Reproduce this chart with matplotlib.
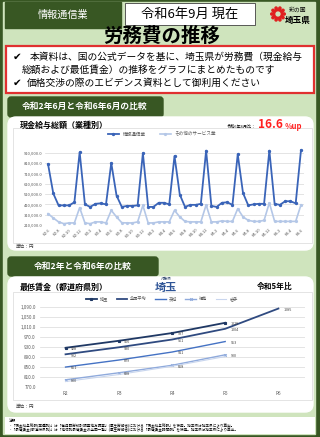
import math
import matplotlib
matplotlib.use("Agg")
import matplotlib.pyplot as plt
from matplotlib.patches import Rectangle, FancyBboxPatch, Circle

plt.rcParams['font.family'] = ['Noto Sans CJK JP', 'DejaVu Sans']

W, H = 320, 437

# 現金給与総額（業種別） R2.6 - R6.6 monthly
info_comm = [800000, 515000, 400000, 400000, 400000, 430000, 915000,
             410000, 385000, 415000, 420000, 410000, 810000, 495000, 385000, 395000, 395000, 400000, 905000,
             385000, 385000, 425000, 425000, 410000, 878000, 505000, 385000, 405000, 405000, 415000, 930000,
             395000, 385000, 425000, 430000, 405000, 895000, 520000, 400000, 410000, 415000, 415000, 930000,
             415000, 405000, 440000, 440000, 420000, 933000]
other_service = [320000, 278000, 240000, 223000, 230000, 230000, 378000,
                 230000, 223000, 240000, 240000, 230000, 352000, 288000, 232000, 230000, 230000, 240000, 400000,
                 230000, 230000, 240000, 240000, 240000, 352000, 288000, 245000, 240000, 240000, 240000, 405000,
                 240000, 240000, 250000, 245000, 245000, 368000, 288000, 255000, 245000, 245000, 255000, 425000,
                 245000, 245000, 245000, 245000, 245000, 405000]
month_ticks = ['R2.6', 'R2.8', 'R2.10', 'R2.12', 'R3.2', 'R3.4', 'R3.6', 'R3.8', 'R3.10', 'R3.12',
               'R4.2', 'R4.4', 'R4.6', 'R4.8', 'R4.10', 'R4.12', 'R5.2', 'R5.4', 'R5.6', 'R5.8',
               'R5.10', 'R5.12', 'R6.2', 'R6.4', 'R6.6']
wage_ticks = [210000, 310000, 410000, 510000, 610000, 710000, 810000, 910000]

# 最低賃金（都道府県別）
years = ['R2', 'R3', 'R4', 'R5', 'R6']
saitama = [928, 956, 987, 1028]
national = [902, 930, 961, 1004, 1085]
ibaraki = [851, 879, 911, 953]
fukushima = [800, 828, 858, 900]
iwate = [793, 821, 854, 893]
min_ticks = [770, 810, 850, 890, 930, 970, 1010, 1050, 1090]

DARK_GREEN = '#385723'
LIGHT_GREEN = '#cfe4bd'


def px_rect(x0, y0, x1, y1):
    return [x0 / W, 1 - y1 / H, (x1 - x0) / W, (y1 - y0) / H]


fig = plt.figure(figsize=(W / 100, H / 100), dpi=100)
fig.patch.set_facecolor(DARK_GREEN)
bg = fig.add_axes([0, 0, 1, 1])
bg.set_xlim(0, W)
bg.set_ylim(H, 0)
bg.axis('off')

bg.add_patch(Rectangle((3, 2), W - 8, H - 5, color=LIGHT_GREEN, zorder=0))

# header
bg.add_patch(Rectangle((5, 2), 116, 26, color=DARK_GREEN))
bg.text(63, 15, '情報通信業', color='white', fontsize=7.3, ha='center', va='center')
bg.add_patch(Rectangle((125, 3), 130, 22, facecolor='white', edgecolor='#404040', lw=0.6))
bg.text(190, 14, '令和6年9月 現在', fontsize=9.5, ha='center', va='center')

# logo
bg.add_patch(Circle((278, 14), 4.2, facecolor='none', edgecolor='#e02020', lw=2.2))
for k in range(10):
    a = 2 * math.pi * k / 10
    bg.add_patch(Circle((278 + 6.2 * math.cos(a), 14 + 6.2 * math.sin(a)), 1.1, color='#e02020'))
bg.text(298, 10, '彩の国', fontsize=4.2, ha='center', va='center')
bg.text(298, 20, '埼玉県', fontsize=6.2, weight='bold', ha='center', va='center')

bg.text(162, 36, '労務費の推移', fontsize=14, weight='bold', ha='center', va='center')

# message box
bg.add_patch(Rectangle((6, 46), 308, 47, facecolor='white', edgecolor='#e03030', lw=1.6))
bg.text(13, 57, '✔', fontsize=7.5, va='center', family=['DejaVu Sans'])
bg.text(30, 57, '本資料は、国の公式データを基に、埼玉県が労務費（現金給与', fontsize=7.0, va='center')
bg.text(22, 70, '総額および最低賃金）の推移をグラフにまとめたものです', fontsize=7.0, va='center')
bg.text(13, 83, '✔', fontsize=7.5, va='center', family=['DejaVu Sans'])
bg.text(27, 83, '価格交渉の際のエビデンス資料として御利用ください', fontsize=7.0, va='center')

# section 1
bg.add_patch(FancyBboxPatch((8, 97), 155, 20, boxstyle='round,pad=0,rounding_size=3', color=DARK_GREEN))
bg.add_patch(FancyBboxPatch((8, 117), 305, 133, boxstyle='round,pad=0,rounding_size=8', color='white'))
bg.text(85, 106, '令和2年6月と令和6年6月の比較', color='white', fontsize=6.3, weight='bold', ha='center', va='center')
bg.text(20, 125, '現金給与総額（業種別）', fontsize=5.8, weight='bold', va='center')
bg.text(256, 127, '令和6年6月比：', fontsize=3.0, ha='right', va='center')
bg.text(258, 125, '16.6', fontsize=8.5, weight='bold', color='#ff2020', va='center')
bg.text(285, 126.5, '％up', fontsize=5.5, weight='bold', color='#ff2020', va='center')
bg.add_patch(Rectangle((13, 128), 299, 115, facecolor='none', edgecolor='#d9d9d9', lw=0.5))
bg.text(16, 246, '単位：円', fontsize=3.3, color='#404040', va='center')

# section 2
bg.add_patch(FancyBboxPatch((8, 257), 150, 19, boxstyle='round,pad=0,rounding_size=3', color=DARK_GREEN))
bg.add_patch(FancyBboxPatch((8, 277), 305, 135, boxstyle='round,pad=0,rounding_size=8', color='white'))
bg.text(83, 266, '令和2年と令和6年の比較', color='white', fontsize=6.3, weight='bold', ha='center', va='center')
bg.text(20, 287, '最低賃金（都道府県別）', fontsize=5.8, weight='bold', va='center')
bg.text(166, 279, '対象県', fontsize=2.6, color='#1f3864', ha='center', va='center')
bg.text(166, 287.5, '埼玉', fontsize=8, weight='bold', color='#2f5597', ha='center', va='center')
bg.text(275, 286, '令和5年比', fontsize=5.6, weight='bold', ha='center', va='center')
bg.add_patch(Rectangle((13, 292), 299, 108, facecolor='none', edgecolor='#d9d9d9', lw=0.5))
bg.text(16, 406, '単位：円', fontsize=3.3, color='#404040', va='center')

# notes
bg.add_patch(Rectangle((5, 417), 310, 17, facecolor='white', edgecolor='none'))
bg.text(9, 420.5, '注釈', fontsize=2.6, va='center')
bg.text(9, 425.5, '・「現金給与総額(業種別)」は「毎月勤労統計調査地方調査」(厚生労働省)における「現金給与総額」を使用。埼玉県は埼玉県により算出。',
        fontsize=2.6, va='center')
bg.text(9, 430.5, '・「最低賃金(都道府県別)」は「地域別最低賃金の全国一覧」(厚生労働省)における「最低賃金時間額」を使用。埼玉県は埼玉県により算出。',
        fontsize=2.6, va='center')

# chart 1
ax1 = fig.add_axes(px_rect(45.4, 152.7, 303.6, 225))
ax1.patch.set_alpha(0)
x = list(range(len(info_comm)))
ax1.plot(x, other_service, color='#b4c7e7', lw=1.2, marker='o', ms=1.3, clip_on=False, label='その他のサービス業')
ax1.plot(x, info_comm, color='#3a64b8', lw=1.3, marker='o', ms=1.4, clip_on=False, label='情報通信業')
ax1.set_xlim(-0.5, len(info_comm) - 0.5)
ax1.set_ylim(wage_ticks[0], wage_ticks[-1])
ax1.set_yticks(wage_ticks)
ax1.set_yticklabels([f'{v:,.1f}' for v in wage_ticks])
ax1.set_xticks(x[::2])
ax1.set_xticklabels(month_ticks, rotation=45, ha='right', rotation_mode='anchor')
ax1.tick_params(length=0, labelsize=3.0, labelcolor='#595959', pad=2)
ax1.grid(axis='y', color='#d9d9d9', lw=0.5)
ax1.set_axisbelow(True)
for s in ax1.spines.values():
    s.set_visible(False)
h, l = ax1.get_legend_handles_labels()
ax1.legend(h[::-1], l[::-1], loc='center', bbox_to_anchor=(162, 134), bbox_transform=bg.transData,
           ncol=2, frameon=False, fontsize=3.3, handlelength=2.5, columnspacing=3, labelcolor='#595959')

# chart 2
ax2 = fig.add_axes(px_rect(40, 307.3, 305, 387.3))
ax2.patch.set_alpha(0)
series = [
    ('埼玉', saitama, '#1f3864', 's', 1.3, 1.8),
    ('全国平均', national, '#2f4a80', None, 1.3, 0),
    ('茨城', ibaraki, '#4472c4', None, 1.0, 0),
    ('福島', fukushima, '#8faadc', 'x', 1.0, 1.8),
    ('岩手', iwate, '#c9d6ee', None, 0.8, 0),
]
for name, vals, col, mk, lw, ms in series:
    ax2.plot(range(len(vals)), vals, color=col, lw=lw, marker=mk, ms=ms, mew=0.8, label=name, clip_on=False)
for name, vals, col, mk, lw, ms in series[:4]:
    for i, v in enumerate(vals):
        ax2.annotate(str(v), (i, v), xytext=(4, -1), textcoords='offset points',
                     fontsize=2.7, va='center', color='#404040')
ax2.set_xlim(-0.48, 4.5)
ax2.set_ylim(min_ticks[0], min_ticks[-1])
ax2.set_yticks(min_ticks)
ax2.set_yticklabels([f'{v:,.1f}' for v in min_ticks])
ax2.set_xticks(range(len(years)))
ax2.set_xticklabels(years)
ax2.tick_params(length=0, labelsize=3.3, labelcolor='#595959', pad=3)
ax2.grid(axis='y', color='#d9d9d9', lw=0.5)
ax2.set_axisbelow(True)
for s in ax2.spines.values():
    s.set_visible(False)
ax2.legend(loc='center', bbox_to_anchor=(162, 299), bbox_transform=bg.transData,
           ncol=5, frameon=False, fontsize=3.0, handlelength=2.5, columnspacing=2, labelcolor='#595959')

fig.savefig('out.png', dpi=100, facecolor=fig.get_facecolor())
